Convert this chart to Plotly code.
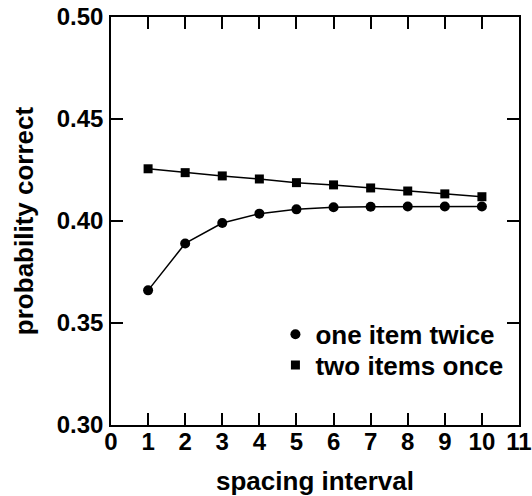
import plotly.graph_objects as go

spacing = [1, 2, 3, 4, 5, 6, 7, 8, 9, 10]
one_item_twice = [0.366, 0.389, 0.399, 0.4036, 0.4057, 0.4067, 0.4070, 0.4071, 0.4071, 0.4071]
two_items_once = [0.4256, 0.4237, 0.4221, 0.4206, 0.4188, 0.4177, 0.4162, 0.4147, 0.4133, 0.4119]
x_ticks = list(range(0, 12))
y_ticks = [0.30, 0.35, 0.40, 0.45, 0.50]

FONT = "Liberation Sans, Arial, sans-serif"

fig = go.Figure()
fig.add_trace(go.Scatter(x=spacing, y=one_item_twice, mode="lines+markers",
                         line=dict(color="black", width=1.5),
                         marker=dict(symbol="circle", size=10, color="black"),
                         showlegend=False))
fig.add_trace(go.Scatter(x=spacing, y=two_items_once, mode="lines+markers",
                         line=dict(color="black", width=1.5),
                         marker=dict(symbol="square", size=9, color="black"),
                         showlegend=False))
# legend entries (markers only)
fig.add_trace(go.Scatter(x=[None], y=[None], mode="markers", name="one item twice",
                         marker=dict(symbol="circle", size=10, color="black"),
                         legend="legend"))
fig.add_trace(go.Scatter(x=[None], y=[None], mode="markers", name="two items once",
                         marker=dict(symbol="square", size=9, color="black"),
                         legend="legend2"))

axis_common = dict(showline=True, linecolor="black", linewidth=1.5, mirror="ticks",
                   ticks="inside", ticklen=12, tickwidth=1.5, tickcolor="black",
                   showgrid=False, zeroline=False, automargin=False,
                   tickfont=dict(family=FONT, size=24, color="black", weight="bold"))

fig.update_xaxes(range=[0, 11], tickmode="array", tickvals=x_ticks,
                 ticktext=[str(v) for v in x_ticks],
                 ticklabelstandoff=-6,
                 title=dict(text="spacing interval", standoff=20,
                            font=dict(family=FONT, size=26, color="black", weight="bold")),
                 **axis_common)
fig.update_yaxes(range=[0.30, 0.50], tickmode="array", tickvals=y_ticks,
                 ticktext=[f"{v:.2f}" for v in y_ticks],
                 ticklabelstandoff=1,
                 title=dict(text="probability correct", standoff=16,
                            font=dict(family=FONT, size=26, color="black", weight="bold")),
                 **axis_common)

leg_common = dict(xanchor="left", yanchor="middle", bgcolor="rgba(0,0,0,0)", borderwidth=0,
                  font=dict(family=FONT, size=26, color="black", weight="bold"))
fig.update_layout(width=532, height=496,
                  margin=dict(l=111, r=13, t=17, b=71),
                  paper_bgcolor="white", plot_bgcolor="white",
                  legend=dict(x=0.403, y=0.222, **leg_common),
                  legend2=dict(x=0.403, y=0.147, **leg_common),
                  font=dict(family=FONT, color="black"))

fig.write_html("out.html")
